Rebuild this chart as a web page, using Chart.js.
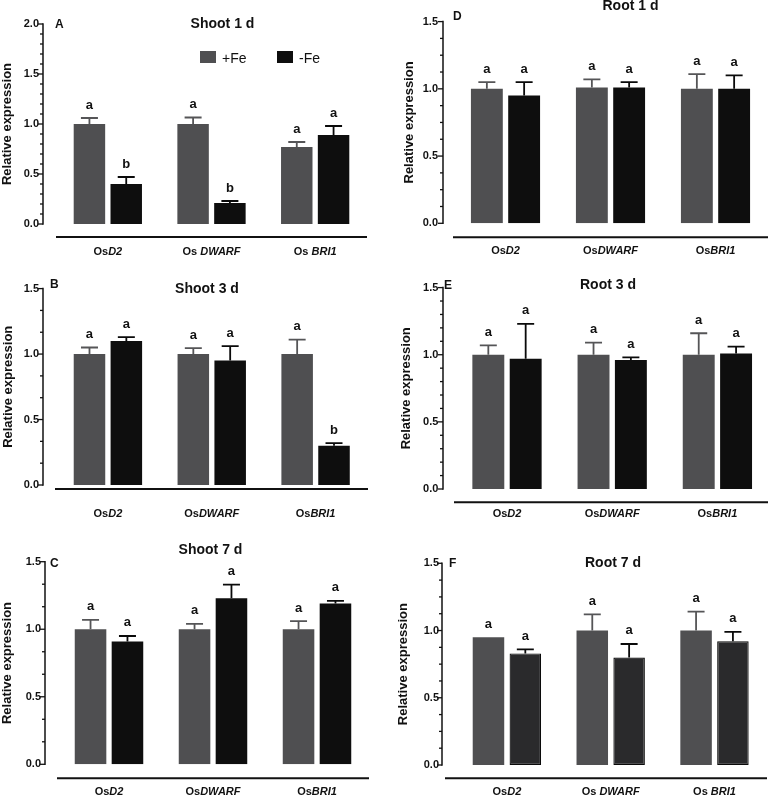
<!DOCTYPE html>
<html>
<head>
<meta charset="utf-8">
<script src="https://cdn.jsdelivr.net/npm/chart.js@4.4.1/dist/chart.umd.min.js"></script>
<style>
html, body { margin: 0; padding: 0; background: #ffffff; }
#wrap { position: relative; width: 771px; height: 797px; overflow: hidden; background: #fff; }
canvas { position: absolute; }
</style>
</head>
<body>
<div id="wrap">
  <canvas id="cA" width="385" height="265" style="left:0px;top:0px"></canvas>
  <canvas id="cD" width="386" height="265" style="left:385px;top:0px"></canvas>
  <canvas id="cB" width="385" height="265" style="left:0px;top:265px"></canvas>
  <canvas id="cE" width="386" height="265" style="left:385px;top:265px"></canvas>
  <canvas id="cC" width="385" height="267" style="left:0px;top:530px"></canvas>
  <canvas id="cF" width="386" height="267" style="left:385px;top:530px"></canvas>
</div>
<script>
// ---------------- DATA ----------------
const seriesNames = ['+Fe', '-Fe'];
const labelsSpaced = ['OsD2', 'Os DWARF', 'Os BRI1'];
const labelsTight = ['OsD2', 'OsDWARF', 'OsBRI1'];
const yAxisTitle = 'Relative expression';
const yTickLabelValues = [0.0, 0.5, 1.0, 1.5, 2.0];

// A  Shoot 1 d
const shoot1dPlusFe = [1.00, 1.00, 0.77];
const shoot1dPlusFeErr = [0.06, 0.065, 0.05];
const shoot1dMinusFe = [0.40, 0.21, 0.89];
const shoot1dMinusFeErr = [0.07, 0.02, 0.09];
const shoot1dLettersPlus = ['a', 'a', 'a'];
const shoot1dLettersMinus = ['b', 'b', 'a'];

// B  Shoot 3 d
const shoot3dPlusFe = [1.00, 1.00, 1.00];
const shoot3dPlusFeErr = [0.05, 0.045, 0.11];
const shoot3dMinusFe = [1.10, 0.95, 0.30];
const shoot3dMinusFeErr = [0.03, 0.11, 0.02];
const shoot3dLettersPlus = ['a', 'a', 'a'];
const shoot3dLettersMinus = ['a', 'a', 'b'];

// C  Shoot 7 d
const shoot7dPlusFe = [1.00, 1.00, 1.00];
const shoot7dPlusFeErr = [0.07, 0.04, 0.06];
const shoot7dMinusFe = [0.91, 1.23, 1.19];
const shoot7dMinusFeErr = [0.04, 0.10, 0.02];
const shoot7dLettersPlus = ['a', 'a', 'a'];
const shoot7dLettersMinus = ['a', 'a', 'a'];

// D  Root 1 d
const root1dPlusFe = [1.00, 1.01, 1.00];
const root1dPlusFeErr = [0.05, 0.06, 0.11];
const root1dMinusFe = [0.95, 1.01, 1.00];
const root1dMinusFeErr = [0.10, 0.04, 0.10];
const root1dLettersPlus = ['a', 'a', 'a'];
const root1dLettersMinus = ['a', 'a', 'a'];

// E  Root 3 d
const root3dPlusFe = [1.00, 1.00, 1.00];
const root3dPlusFeErr = [0.07, 0.09, 0.16];
const root3dMinusFe = [0.97, 0.96, 1.01];
const root3dMinusFeErr = [0.26, 0.02, 0.05];
const root3dLettersPlus = ['a', 'a', 'a'];
const root3dLettersMinus = ['a', 'a', 'a'];

// F  Root 7 d
const root7dPlusFe = [0.95, 1.00, 1.00];
const root7dPlusFeErr = [0.00, 0.12, 0.14];
const root7dMinusFe = [0.83, 0.80, 0.92];
const root7dMinusFeErr = [0.03, 0.10, 0.07];
const root7dLettersPlus = ['a', 'a', 'a'];
const root7dLettersMinus = ['a', 'a', 'a'];

// ---------------- STYLE / LAYOUT ----------------
const FONT = '"Liberation Sans", Arial, Helvetica, sans-serif';
const GRAY = '#4f4f51';
const BLACK = '#0e0e0e';
const TEXT = '#111111';

const panels = [
  { canvas: 'cA', title: 'Shoot 1 d', letter: 'A', labels: labelsSpaced,
    plus: shoot1dPlusFe, plusErr: shoot1dPlusFeErr, minus: shoot1dMinusFe, minusErr: shoot1dMinusFeErr,
    lPlus: shoot1dLettersPlus, lMinus: shoot1dLettersMinus, yMax: 2.0, minor: 0.1,
    w: 385, h: 265, area: [56, 367, 24, 224], axisX: 43, xLine: [56, 367, 237], labelY: 251.5,
    tickPad: 17, titlePad: 0, titleXY: [222.5, 28], letterXY: [55, 28], legend: [200, 51] },
  { canvas: 'cB', title: 'Shoot 3 d', letter: 'B', labels: labelsTight,
    plus: shoot3dPlusFe, plusErr: shoot3dPlusFeErr, minus: shoot3dMinusFe, minusErr: shoot3dMinusFeErr,
    lPlus: shoot3dLettersPlus, lMinus: shoot3dLettersMinus, yMax: 1.5, minor: 1 / 6,
    w: 385, h: 265, area: [56, 367.5, 17.3, 220], axisX: 43, xLine: [55, 368, 224], labelY: 249,
    tickPad: 17, titlePad: 1, titleXY: [207, 28], letterXY: [50, 23] },
  { canvas: 'cC', title: 'Shoot 7 d', letter: 'C', labels: labelsTight,
    plus: shoot7dPlusFe, plusErr: shoot7dPlusFeErr, minus: shoot7dMinusFe, minusErr: shoot7dMinusFeErr,
    lPlus: shoot7dLettersPlus, lMinus: shoot7dLettersMinus, yMax: 1.5, minor: 1 / 6,
    w: 385, h: 267, area: [57, 369, 31.7, 234.3], axisX: 45, xLine: [57, 369, 248.3], labelY: 262,
    tickPad: 16, titlePad: 0, titleXY: [210.5, 24], letterXY: [50, 37] },
  { canvas: 'cD', title: 'Root 1 d', letter: 'D', labels: labelsTight,
    plus: root1dPlusFe, plusErr: root1dPlusFeErr, minus: root1dMinusFe, minusErr: root1dMinusFeErr,
    lPlus: root1dLettersPlus, lMinus: root1dLettersMinus, yMax: 1.5, minor: 0.125,
    w: 386, h: 265, area: [68, 383, 19, 223.3], axisX: 58, xLine: [68, 383, 237.3], labelY: 251,
    tickPad: 15, titlePad: 17, titleXY: [245.5, 10], letterXY: [68, 20] },
  { canvas: 'cE', title: 'Root 3 d', letter: 'E', labels: labelsTight,
    plus: root3dPlusFe, plusErr: root3dPlusFeErr, minus: root3dMinusFe, minusErr: root3dMinusFeErr,
    lPlus: root3dLettersPlus, lMinus: root3dLettersMinus, yMax: 1.5, minor: 0.1,
    w: 386, h: 265, area: [69.4, 385, 19, 224], axisX: 58, xLine: [69, 383, 237.3], labelY: 249,
    tickPad: 16, titlePad: 14, titleXY: [223, 24], letterXY: [59, 24] },
  { canvas: 'cF', title: 'Root 7 d', letter: 'F', labels: labelsSpaced,
    plus: root7dPlusFe, plusErr: root7dPlusFeErr, minus: root7dMinusFe, minusErr: root7dMinusFeErr,
    lPlus: root7dLettersPlus, lMinus: root7dLettersMinus, yMax: 1.5, minor: 0.125,
    w: 386, h: 267, area: [70, 381.4, 33.3, 235], axisX: 57, xLine: [60, 382, 248.3], labelY: 261.5,
    tickPad: 16, titlePad: 11, titleXY: [228, 37], letterXY: [64, 37], darkMinus: true },
];

function isMajor(v) {
  return yTickLabelValues.some(t => Math.abs(t - v) < 1e-6);
}

const decorPlugin = {
  id: 'decor',
  afterDatasetsDraw(chart) {
    const P = chart.options.plugins.decor.panel;
    const ctx = chart.ctx;
    const xs = chart.scales.x;
    const ys = chart.scales.y;
    ctx.save();

    // offset y axis line and ticks
    ctx.strokeStyle = TEXT;
    ctx.lineWidth = 1.5;
    ctx.beginPath();
    ctx.moveTo(P.axisX, ys.getPixelForValue(0) + 0.75);
    ctx.lineTo(P.axisX, ys.getPixelForValue(ys.max) - 0.75);
    ctx.stroke();
    ctx.lineWidth = 1.3;
    ys.ticks.forEach(t => {
      const py = ys.getPixelForValue(t.value);
      const len = isMajor(t.value) ? 5 : 3;
      ctx.beginPath();
      ctx.moveTo(P.axisX, py);
      ctx.lineTo(P.axisX - len, py);
      ctx.stroke();
    });

    // offset x axis line
    ctx.lineWidth = 2;
    ctx.beginPath();
    ctx.moveTo(P.xLine[0], P.xLine[2]);
    ctx.lineTo(P.xLine[1], P.xLine[2]);
    ctx.stroke();

    // category labels: "Os" upright, gene name italic
    ctx.fillStyle = TEXT;
    ctx.textBaseline = 'middle';
    ctx.textAlign = 'left';
    chart.data.labels.forEach((lab, i) => {
      const cx = xs.getPixelForValue(i);
      const pre = lab.slice(0, 2) + (lab[2] === ' ' ? ' ' : '');
      const gene = lab.slice(2).trim();
      ctx.font = 'bold 11px ' + FONT;
      const w1 = ctx.measureText(pre).width;
      ctx.font = 'italic bold 11px ' + FONT;
      const w2 = ctx.measureText(gene).width;
      const x0 = cx - (w1 + w2) / 2;
      ctx.font = 'bold 11px ' + FONT;
      ctx.fillText(pre, x0, P.labelY);
      ctx.font = 'italic bold 11px ' + FONT;
      ctx.fillText(gene, x0 + w1, P.labelY);
    });

    // error bars and significance letters
    chart.data.datasets.forEach((ds, di) => {
      const meta = chart.getDatasetMeta(di);
      meta.data.forEach((bar, j) => {
        const v = ds.data[j];
        const e = ds.errors[j];
        const yVal = ys.getPixelForValue(v);
        const yTop = ys.getPixelForValue(v + e);
        if (e > 0) {
          ctx.strokeStyle = ds.errColor;
          ctx.lineWidth = 1.8;
          ctx.beginPath();
          ctx.moveTo(bar.x, yVal);
          ctx.lineTo(bar.x, yTop);
          ctx.moveTo(bar.x - 8.5, yTop);
          ctx.lineTo(bar.x + 8.5, yTop);
          ctx.stroke();
        }
        ctx.fillStyle = TEXT;
        ctx.font = 'bold 13px ' + FONT;
        ctx.textAlign = 'center';
        ctx.textBaseline = 'alphabetic';
        ctx.fillText(ds.letters[j], bar.x, yTop - 9.5);
      });
    });

    // panel title and letter
    ctx.fillStyle = TEXT;
    ctx.textBaseline = 'alphabetic';
    ctx.font = 'bold 14px ' + FONT;
    ctx.textAlign = 'center';
    ctx.fillText(P.title, P.titleXY[0], P.titleXY[1]);
    ctx.font = 'bold 12px ' + FONT;
    ctx.textAlign = 'left';
    ctx.fillText(P.letter, P.letterXY[0], P.letterXY[1]);

    // legend
    if (P.legend) {
      const lx = P.legend[0], ly = P.legend[1];
      const offs = [0, 77];
      chart.data.datasets.forEach((ds, di) => {
        const bx = lx + offs[di];
        ctx.fillStyle = ds.backgroundColor;
        ctx.fillRect(bx, ly, 16, 12);
        ctx.fillStyle = TEXT;
        ctx.font = '14px ' + FONT;
        ctx.textAlign = 'left';
        ctx.textBaseline = 'alphabetic';
        ctx.fillText(ds.label, bx + 22, ly + 11.5);
      });
    }
    ctx.restore();
  }
};

panels.forEach(P => {
  const ctx = document.getElementById(P.canvas).getContext('2d');
  new Chart(ctx, {
    type: 'bar',
    data: {
      labels: P.labels,
      datasets: [
        { label: seriesNames[0], data: P.plus, errors: P.plusErr, letters: P.lPlus,
          backgroundColor: GRAY, borderWidth: 0, errColor: '#555557',
          categoryPercentage: 0.71, barPercentage: 0.855 },
        { label: seriesNames[1], data: P.minus, errors: P.minusErr, letters: P.lMinus,
          backgroundColor: P.darkMinus ? '#2a2a2c' : BLACK,
          borderColor: '#0a0a0a', borderWidth: P.darkMinus ? 1.2 : 0, borderSkipped: false,
          errColor: '#0a0a0a',
          categoryPercentage: 0.71, barPercentage: 0.855 }
      ]
    },
    options: {
      responsive: false,
      animation: false,
      devicePixelRatio: 1,
      layout: {
        padding: { left: 0, right: P.w - P.area[1], top: P.area[2], bottom: P.h - P.area[3] }
      },
      plugins: {
        legend: { display: false },
        tooltip: { enabled: false },
        title: { display: false },
        decor: { panel: P }
      },
      scales: {
        x: { type: 'category', display: false, offset: true },
        y: {
          type: 'linear', min: 0, max: P.yMax,
          afterFit: (s) => { s.width = P.area[0]; },
          border: { display: false },
          grid: { display: false, drawTicks: false },
          ticks: {
            stepSize: P.minor, autoSkip: false, padding: P.tickPad,
            color: TEXT, font: { family: FONT, size: 11, weight: 'bold' },
            callback: (v) => isMajor(v) ? Number(v).toFixed(1) : ''
          },
          title: {
            display: true, text: yAxisTitle, color: TEXT,
            font: { family: FONT, size: 13, weight: 'bold' },
            padding: { top: P.titlePad, bottom: 0 }
          }
        }
      }
    },
    plugins: [decorPlugin]
  });
});
</script>
</body>
</html>
